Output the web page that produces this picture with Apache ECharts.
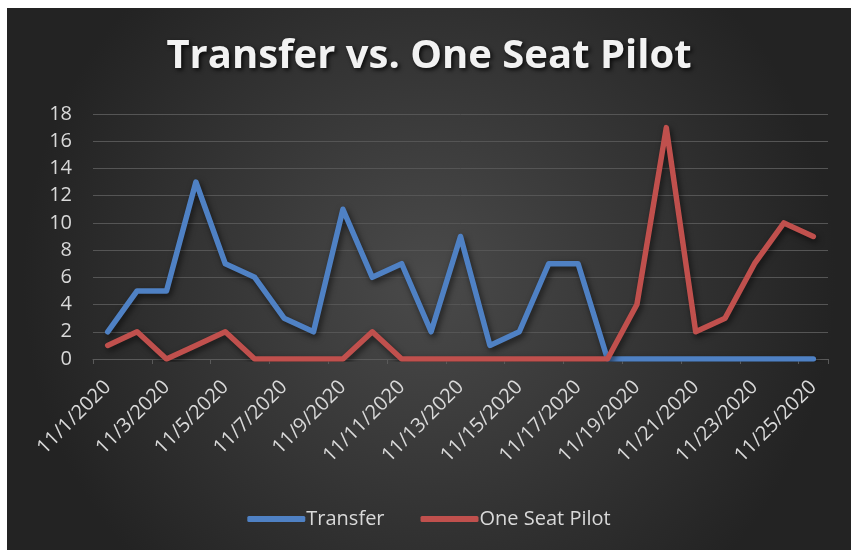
<!DOCTYPE html>
<html>
<head>
<meta charset="utf-8">
<script src="https://cdn.jsdelivr.net/npm/echarts@6/dist/echarts.min.js"></script>
<style>
  html, body { margin: 0; padding: 0; background: #fff; }
  #chart { position: absolute; left: 7px; top: 8px; width: 844px; height: 542px; }
</style>
</head>
<body>
<div id="chart"></div>
<script>
var dates = [
  "11/1/2020", "11/2/2020", "11/3/2020", "11/4/2020", "11/5/2020",
  "11/6/2020", "11/7/2020", "11/8/2020", "11/9/2020", "11/10/2020",
  "11/11/2020", "11/12/2020", "11/13/2020", "11/14/2020", "11/15/2020",
  "11/16/2020", "11/17/2020", "11/18/2020", "11/19/2020", "11/20/2020",
  "11/21/2020", "11/22/2020", "11/23/2020", "11/24/2020", "11/25/2020"
];
var transfer = [2, 5, 5, 13, 7, 6, 3, 2, 11, 6, 7, 2, 9, 1, 2, 7, 7, 0, 0, 0, 0, 0, 0, 0, 0];
var oneSeatPilot = [1, 2, 0, 1, 2, 0, 0, 0, 0, 2, 0, 0, 0, 0, 0, 0, 0, 0, 4, 17, 2, 3, 7, 10, 9];

var textColor = "#d9d9d9";
var font = "'Open Sans', 'Noto Sans', sans-serif";

var chart = echarts.init(document.getElementById("chart"));
chart.setOption({
  backgroundColor: new echarts.graphic.RadialGradient(0.5, 0.5, 0.75, [
    { offset: 0, color: "#4a4a4a" },
    { offset: 1, color: "#232323" }
  ]),
  title: {
    text: "Transfer vs. One Seat Pilot",
    left: "center",
    top: 24,
    textStyle: {
      color: "#f2f2f2",
      fontFamily: font,
      fontWeight: "bold",
      fontSize: 40,
      textShadowColor: "rgba(0,0,0,0.8)",
      textShadowBlur: 4,
      textShadowOffsetX: 2,
      textShadowOffsetY: 2
    }
  },
  legend: {
    bottom: 16,
    left: "center",
    itemWidth: 58,
    itemHeight: 6,
    itemGap: 36,
    icon: "roundRect",
    textStyle: { color: textColor, fontFamily: font, fontSize: 20, padding: [0, 0, 0, -4] },
    data: ["Transfer", "One Seat Pilot"]
  },
  grid: {
    left: 86,
    right: 23,
    top: 106,
    bottom: 191
  },
  xAxis: {
    type: "category",
    data: dates,
    boundaryGap: true,
    axisLine: { lineStyle: { color: "#5a5a5a", width: 1 } },
    axisTick: { show: true, length: 5, lineStyle: { color: "#5a5a5a" } },
    axisLabel: {
      interval: 1,
      rotate: 45,
      color: textColor,
      fontFamily: font,
      fontSize: 20,
      margin: 25
    }
  },
  yAxis: {
    type: "value",
    min: 0,
    max: 18,
    interval: 2,
    axisLine: { show: false },
    axisTick: { show: false },
    axisLabel: { color: textColor, fontFamily: font, fontSize: 20, margin: 21 },
    splitLine: { lineStyle: { color: "#555555", width: 1 } }
  },
  series: [
    {
      name: "Transfer",
      type: "line",
      data: transfer,
      symbol: "none",
      color: "#4f81c4",
      lineStyle: {
        width: 5.5,
        cap: "round",
        join: "round",
        shadowColor: "rgba(0,0,0,0.6)",
        shadowBlur: 6,
        shadowOffsetX: 2,
        shadowOffsetY: 3
      }
    },
    {
      name: "One Seat Pilot",
      type: "line",
      data: oneSeatPilot,
      symbol: "none",
      color: "#c0504d",
      lineStyle: {
        width: 5.5,
        cap: "round",
        join: "round",
        shadowColor: "rgba(0,0,0,0.6)",
        shadowBlur: 6,
        shadowOffsetX: 2,
        shadowOffsetY: 3
      }
    }
  ]
});
</script>
</body>
</html>
